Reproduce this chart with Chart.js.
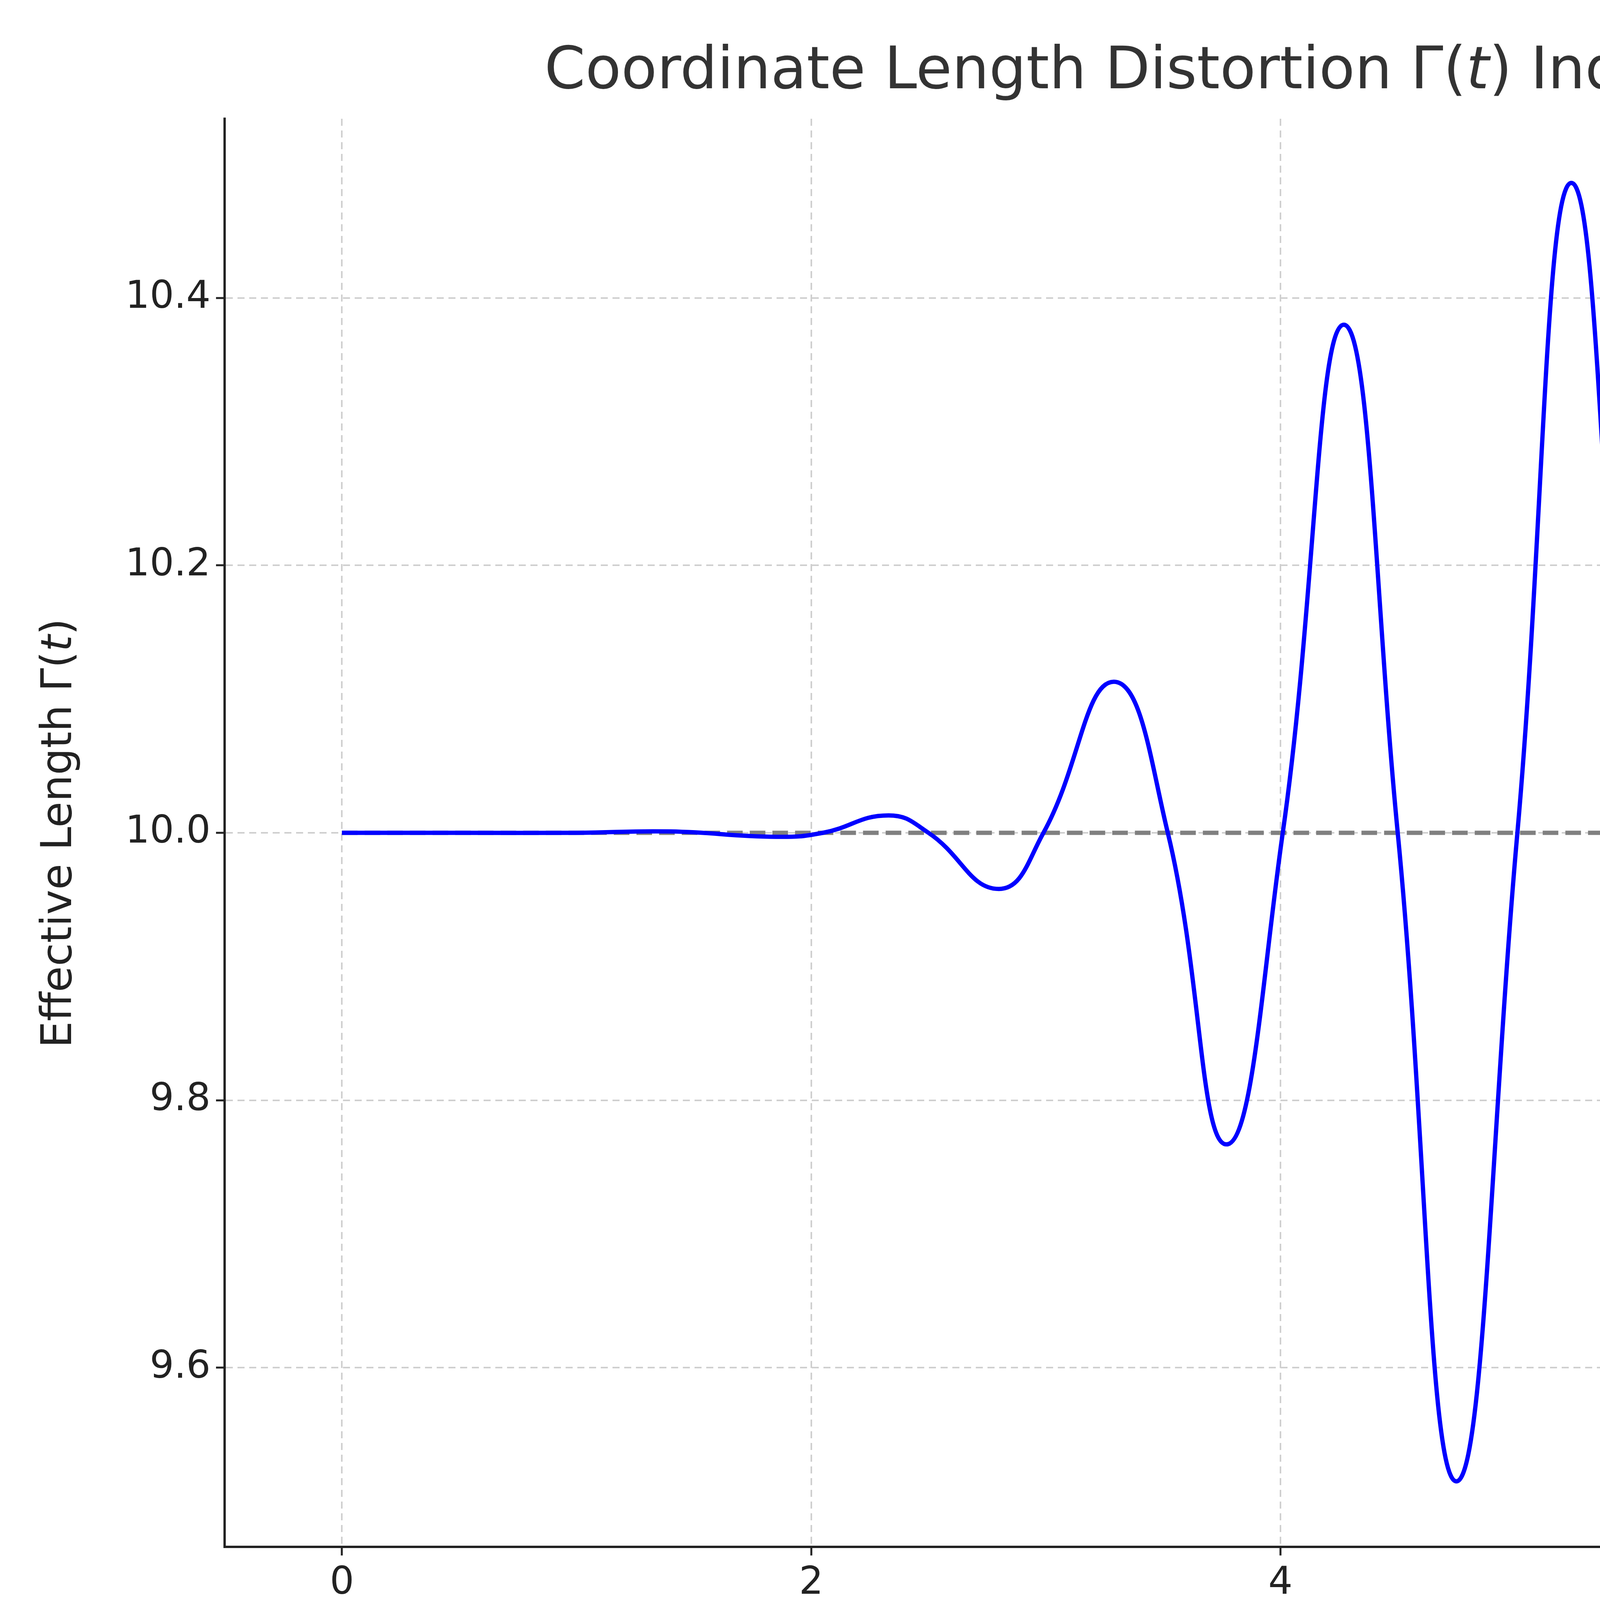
<!DOCTYPE html>
<html><head><meta charset="utf-8">
<script src="https://cdn.jsdelivr.net/npm/chart.js@4/dist/chart.umd.min.js"></script>
<style>html,body{margin:0;padding:0;background:#fff}#w{width:7224px;height:4280px}</style>
</head><body><div id="w"><canvas id="c"></canvas></div>
<script>
// Values (extrema, zero crossings, flat segments)
const timeValues = [0,0.5,1.0,1.4,1.85,2.05,2.33,2.5,2.8,2.99,3.29,3.52,3.77,4.01,4.27,4.5,4.75,5.01,5.24,5.49,5.73,5.99,6.22,6.5,6.72,7.0,7.2,7.5,7.7,8.0,8.2,8.6,9.0,9.5,10.0];
const gammaValues = [10.0,10.0,10.0,10.001,9.997,10.0,10.013,10.0,9.958,10.0,10.113,10.0,9.767,10.0,10.38,10.0,9.515,10.0,10.486,10.0,9.619,10.0,10.233,10.0,9.888,10.0,10.042,10.0,9.988,10.0,10.003,10.0,10.0,10.0,10.0];
const baselineValue = 10.0;
const yTicks = [9.6,9.8,10.0,10.2,10.4];
const xTicks = [0,2,4,6,8,10];

const F = 'DejaVu Sans';
function rich(ctx, segs, x, y, align){
  let w=0; segs.forEach(s=>{ctx.font=s.f; w+=ctx.measureText(s.t).width;});
  let cx = align==='center'? x-w/2 : x;
  segs.forEach(s=>{ctx.font=s.f; ctx.fillText(s.t,cx,y+(s.dy||0)); cx+=ctx.measureText(s.t).width;});
}
const deco = {
  id:'deco',
  afterDraw(chart){
    const ctx=chart.ctx; ctx.save(); ctx.textBaseline='middle'; ctx.fillStyle='#333';
    rich(ctx,[{t:'Coordinate Length Distortion Γ(',f:`150px ${F}`},{t:'t',f:`italic 150px ${F}`},{t:') Induced by a Gravitational Wave',f:`150px ${F}`}],3881,187,'center');
    ctx.save(); ctx.translate(154,2133); ctx.rotate(-Math.PI/2); ctx.fillStyle='#222';
    rich(ctx,[{t:'Effective Length Γ(',f:`108px ${F}`},{t:'t',f:`italic 108px ${F}`},{t:')',f:`108px ${F}`}],0,0,'center');
    ctx.restore();
    const x0=5630,y0=355,x1=7131,y1=725;
    ctx.fillStyle='rgba(255,255,255,0.85)'; ctx.strokeStyle='#d0d0d0'; ctx.lineWidth=5;
    ctx.beginPath(); ctx.roundRect(x0,y0,x1-x0,y1-y0,16); ctx.fill(); ctx.stroke();
    const ds=chart.data.datasets;
    [[444,ds[0]],[617,ds[1]]].forEach(([yy,d],i)=>{
      ctx.strokeStyle=d.borderColor; ctx.lineWidth=d.borderWidth; ctx.setLineDash(d.borderDash||[]);
      ctx.beginPath(); ctx.moveTo(5667,yy); ctx.lineTo(5882,yy); ctx.stroke(); ctx.setLineDash([]);
      ctx.fillStyle='#333';
      if(i===0) rich(ctx,[{t:'Γ(',f:`94px ${F}`},{t:'t',f:`italic 94px ${F}`},{t:') (Distorted Length)',f:`94px ${F}`}],5957,yy,'left');
      else rich(ctx,[{t:'Γ',f:`94px ${F}`},{t:'0',f:`66px ${F}`,dy:22},{t:' (Baseline Length)',f:`94px ${F}`}],5957,yy,'left');
    });
    ctx.restore();
  }
};
new Chart(document.getElementById('c'),{
  type:'line',
  data:{datasets:[
    {label:'Γ(t) (Distorted Length)',data:timeValues.map((t,i)=>({x:t,y:gammaValues[i]})),borderColor:'#0000ff',borderWidth:11,pointRadius:0,tension:0.45},
    {label:'Γ0 (Baseline Length)',data:[{x:0,y:baselineValue},{x:10,y:baselineValue}],borderColor:'#808080',borderWidth:11,borderDash:[40,18],pointRadius:0}
  ]},
  options:{
    responsive:true,maintainAspectRatio:false,devicePixelRatio:1,animation:false,
    layout:{padding:{left:0,top:304,right:42,bottom:0}},
    plugins:{legend:{display:false},tooltip:{enabled:false}},
    scales:{
      x:{type:'linear',min:-0.5,max:10.5,
        afterBuildTicks(s){s.ticks=xTicks.map(v=>({value:v}));},
        afterFit(s){s.height=320;},
        grid:{color:'#cfcfcf',lineWidth:4,tickColor:'#222',tickLength:22,tickWidth:5},
        border:{color:'#222',width:6,dash:[18,12]},
        ticks:{font:{family:F,size:98},color:'#222',padding:14,maxRotation:0},
        title:{display:true,text:'Time (arbitrary units)',font:{family:F,size:108},color:'#222',padding:{top:10}}
      },
      y:{min:9.466,max:10.534,
        afterBuildTicks(s){s.ticks=yTicks.map(v=>({value:v}));},
        afterFit(s){s.width=575;},
        grid:{color:'#cfcfcf',lineWidth:4,tickColor:'#222',tickLength:22,tickWidth:5},
        border:{color:'#222',width:6,dash:[18,12]},
        ticks:{font:{family:F,size:98},color:'#222',padding:14,callback:v=>v.toFixed(1)}
      }
    }
  },
  plugins:[deco]
});
</script></body></html>
